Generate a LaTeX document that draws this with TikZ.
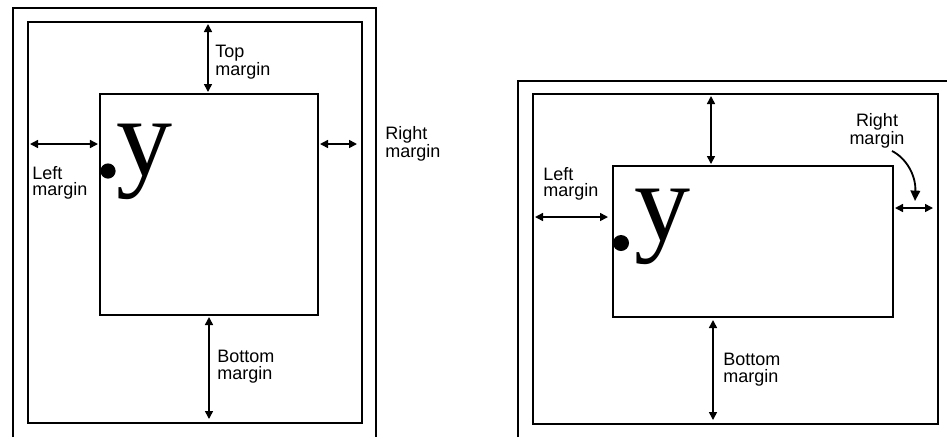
\documentclass[tikz,border=0pt]{standalone}
\usepackage{fontspec}
\setmainfont{Liberation Sans}
\newfontfamily\glyphfont{Liberation Serif}
\usetikzlibrary{arrows.meta, positioning}

\begin{document}
\begin{tikzpicture}[x=0.025cm,y=-0.025cm]
  % Styles
  \tikzset{
    sheet/.style={line width=1.8pt},
    pageedge/.style={line width=1.4pt},
    textarea/.style={line width=0.9pt},
    dim/.style={line width=1.1pt,{Triangle[length=2mm,width=2mm]}-{Triangle[length=2mm,width=2mm]}},
    pointer/.style={line width=1.3pt,-{Triangle[length=2.6mm,width=2.4mm]}},
    label/.style={font=\fontsize{12.8}{11.8}\selectfont,align=left,inner sep=0pt,anchor=north west},
    bigy/.style={font=\glyphfont\fontsize{79.7}{80}\selectfont,inner sep=0pt,anchor=base west}
  }
  \useasboundingbox (0,0) rectangle (947,437);

  % ---------- Portrait sheet ----------
  \draw[sheet] (13,437) -- (13,8) -- (376,8) -- (376,437);
  \draw[pageedge] (28,22) rectangle (362,423);
  \draw[textarea] (100,94) rectangle (318,315);

  % margin arrow ends
  \coordinate (pTop1) at (208,24);  \coordinate (pTop2) at (208,92);
  \coordinate (pLft1) at (30,144);  \coordinate (pLft2) at (98,144);
  \coordinate (pRgt1) at (320,144); \coordinate (pRgt2) at (357,144);
  \coordinate (pBot1) at (209,317); \coordinate (pBot2) at (209,419);

  \draw[dim] (pTop1) -- (pTop2);
  \draw[dim] (pLft1) -- (pLft2);
  \draw[dim] (pRgt1) -- (pRgt2);
  \draw[dim] (pBot1) -- (pBot2);

  \node[label] (pTopLbl) at (215,45) {Top\\margin};
  \node[label] (pLftLbl) at (32,166) {Left\\margin};
  \node[label] (pRgtLbl) at (385,126) {Right\\margin};
  \node[label] (pBotLbl) at (217,350) {Bottom\\margin};

  % reference point and glyph
  \fill (108,171) circle[radius=0.19cm];
  \node[bigy] (pGlyph) at (116,175) {y};

  % ---------- Landscape sheet ----------
  \draw[sheet] (518,437) -- (518,81) -- (947,81);
  \draw[pageedge] (533,94) rectangle (938,424);
  \draw[textarea] (613,166) rectangle (893,317);

  % margin arrow ends
  \coordinate (lTop1) at (711,96);  \coordinate (lTop2) at (711,164);
  \coordinate (lLft1) at (535,217); \coordinate (lLft2) at (608,217);
  \coordinate (lRgt1) at (895,208); \coordinate (lRgt2) at (933,208);
  \coordinate (lBot1) at (713,320); \coordinate (lBot2) at (713,420);

  \draw[dim] (lTop1) -- (lTop2);
  \draw[dim] (lLft1) -- (lLft2);
  \draw[dim] (lRgt1) -- (lRgt2);
  \draw[dim] (lBot1) -- (lBot2);

  \node[label] (lLftLbl) at (543,167) {Left\\margin};
  \node[label,align=center,anchor=north] (lRgtLbl) at (877,113) {Right\\margin};
  \node[label] (lBotLbl) at (723,353) {Bottom\\margin};

  % bent pointer from the right label
  \coordinate (lPtr1) at (892,151);
  \coordinate (lPtr2) at (915,201);
  \draw[pointer] (lPtr1) .. controls (906,158) and (916,175) .. (lPtr2);

  % reference point and glyph
  \fill (621,243) circle[radius=0.2cm];
  \node[bigy] (lGlyph) at (634,240) {y};
\end{tikzpicture}
\end{document}
